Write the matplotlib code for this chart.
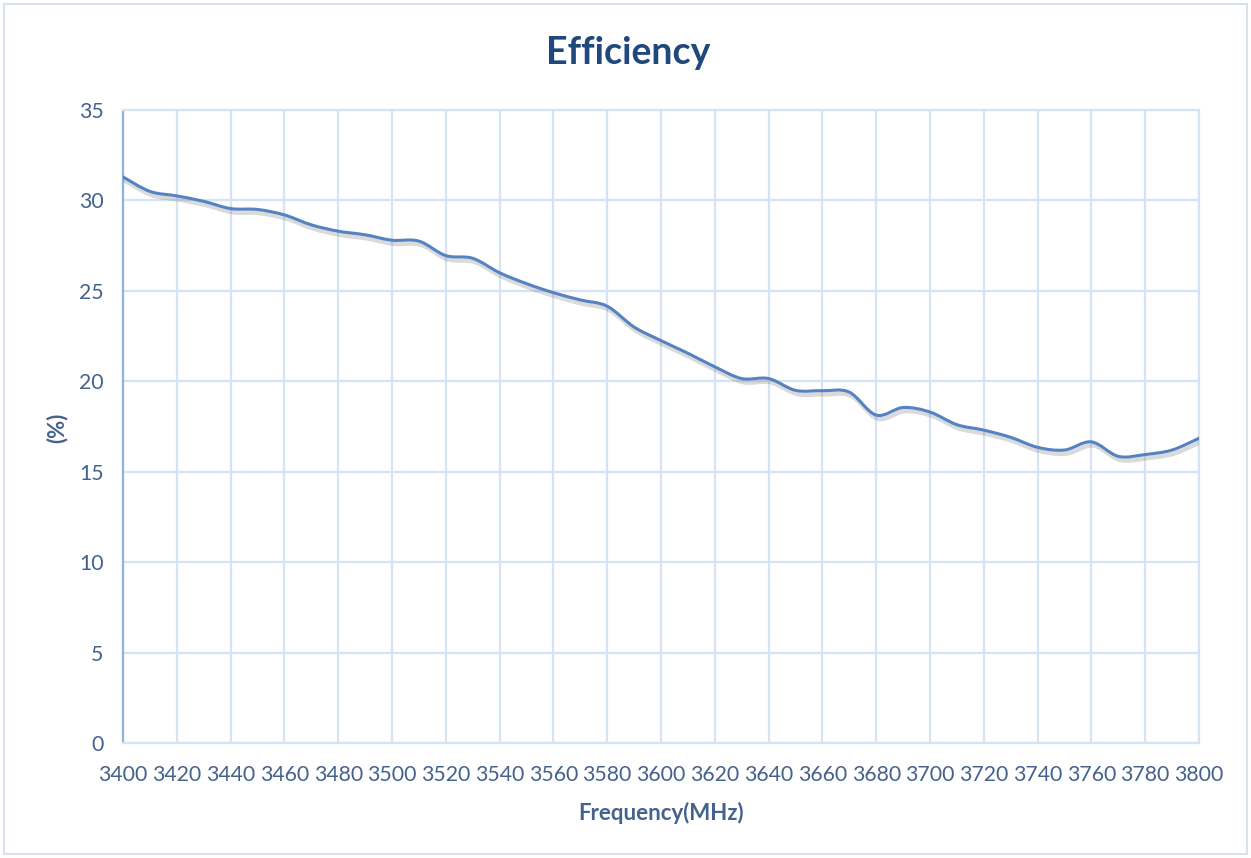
import matplotlib
matplotlib.use("Agg")
import matplotlib.pyplot as plt
import matplotlib.patheffects as pe
from matplotlib.path import Path
from matplotlib.patches import PathPatch, Rectangle
import numpy as np

# ---- data ----
freq_mhz = [3400, 3410, 3420, 3430, 3440, 3450, 3460, 3470, 3480, 3490,
            3500, 3510, 3520, 3530, 3540, 3550, 3560, 3570, 3580, 3590,
            3600, 3610, 3620, 3630, 3640, 3650, 3660, 3670, 3680, 3690,
            3700, 3710, 3720, 3730, 3740, 3750, 3760, 3770, 3780, 3790, 3800]
efficiency = [31.3, 30.5, 30.25, 29.95, 29.55, 29.5, 29.2, 28.65, 28.3, 28.1,
              27.8, 27.75, 26.95, 26.8, 26.0, 25.4, 24.9, 24.5, 24.15, 23.0,
              22.25, 21.55, 20.8, 20.15, 20.15, 19.5, 19.48, 19.4, 18.13, 18.55,
              18.3, 17.6, 17.3, 16.9, 16.35, 16.2, 16.65, 15.85, 15.95, 16.2, 16.85]
x_ticks = list(range(3400, 3801, 20))
y_ticks = [0, 5, 10, 15, 20, 25, 30, 35]

title_txt = "Efficiency"
xlabel_txt = "Frequency(MHz)"
ylabel_txt = "(%)"

# ---- style ----
TEXT_COL = "#44628c"
TITLE_COL = "#1f497d"
GRID_COL = "#d5e3f5"
LINE_COL = "#5582c2"
LABEL_FONT = ["Lato", "DejaVu Sans"]

fig = plt.figure(figsize=(12.51, 8.58), dpi=100)
ax = fig.add_axes([123 / 1251, 1 - 743 / 858, (1199 - 123) / 1251, (743 - 110) / 858])

# outer border
fig.patches.append(Rectangle((4 / 1251, 4 / 858), 1 - 8 / 1251, 1 - 8 / 858,
                             transform=fig.transFigure, fill=False,
                             edgecolor="#d9e1ec", linewidth=1.5))

ax.set_xlim(3400, 3800)
ax.set_ylim(0, 35)
ax.set_xticks(x_ticks)
ax.set_yticks(y_ticks)
ax.grid(True, color=GRID_COL, linewidth=1.6)
ax.set_axisbelow(True)
for s in ["top", "right", "bottom"]:
    ax.spines[s].set_color(GRID_COL)
    ax.spines[s].set_linewidth(1.6)
ax.spines["left"].set_color("#8fb2e0")
ax.spines["left"].set_linewidth(1.6)
ax.tick_params(length=0, labelcolor=TEXT_COL, labelsize=15.3)
ax.tick_params(axis="y", pad=14)
ax.tick_params(axis="x", pad=16)
for lab in ax.get_xticklabels() + ax.get_yticklabels():
    lab.set_fontfamily(LABEL_FONT)

# smooth (Catmull-Rom -> cubic Bezier) line through the data points
xs = np.array(freq_mhz, dtype=float)
ys = np.array(efficiency, dtype=float)
verts = [(xs[0], ys[0])]
codes = [Path.MOVETO]
n = len(xs)
for i in range(n - 1):
    p0 = np.array([xs[max(i - 1, 0)], ys[max(i - 1, 0)]])
    p1 = np.array([xs[i], ys[i]])
    p2 = np.array([xs[i + 1], ys[i + 1]])
    p3 = np.array([xs[min(i + 2, n - 1)], ys[min(i + 2, n - 1)]])
    c1 = p1 + (p2 - p0) / 6.0
    c2 = p2 - (p3 - p1) / 6.0
    verts += [tuple(c1), tuple(c2), tuple(p2)]
    codes += [Path.CURVE4] * 3
patch = PathPatch(Path(verts, codes), facecolor="none", edgecolor=LINE_COL,
                  linewidth=2.2, capstyle="round", joinstyle="round", zorder=3,
                  path_effects=[pe.SimpleLineShadow(offset=(1.2, -2.6), shadow_color="#7a7a7a",
                                                    alpha=0.28, linewidth=3.2),
                                pe.Normal()])
ax.add_patch(patch)

fig.text(628 / 1251, 1 - 53 / 858, title_txt, ha="center", va="center",
         fontsize=27, fontweight="bold", color=TITLE_COL, family=LABEL_FONT)
fig.text(661 / 1251, 1 - 813 / 858, xlabel_txt, ha="center", va="center",
         fontsize=16, fontweight="bold", color=TEXT_COL, family=LABEL_FONT)
fig.text(57 / 1251, 1 - 428 / 858, ylabel_txt, ha="center", va="center", rotation=90,
         fontsize=16, fontweight="bold", color=TEXT_COL, family=LABEL_FONT)

fig.savefig("out.png", dpi=100, facecolor="white")
